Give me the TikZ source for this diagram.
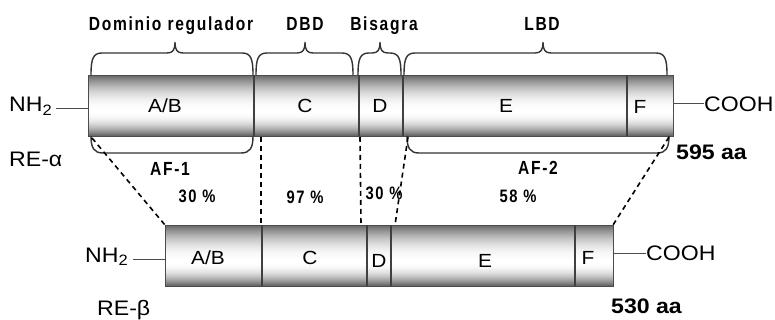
\documentclass[tikz,border=0pt]{standalone}
\usepackage{fontspec}
\setmainfont{Liberation Sans}[FakeStretch=1.1]
\newfontfamily\narrowfont[FakeStretch=0.82,LetterSpace=9]{Liberation Sans}
\usetikzlibrary{calc}

\tikzset{
  barrim/.style={draw=black!70, line width=0.8pt},
  sep/.style={draw=black!75, line width=1.2pt},
  seglabel/.style={font=\fontsize{19}{19}\selectfont, inner sep=0pt},
  endlabel/.style={font=\fontsize{21}{21}\selectfont, inner sep=0pt},
  aalabel/.style={font=\bfseries\fontsize{21}{21}\selectfont, inner sep=0pt},
  bracelabel/.style={font=\narrowfont\bfseries\fontsize{19}{19}\selectfont, inner sep=0pt},
  pct/.style={font=\narrowfont\bfseries\fontsize{18}{18}\selectfont, inner sep=0pt},
  tail/.style={draw=black!70, line width=1pt},
  brace/.style={draw=black!80, line width=1.4pt},
  homol/.style={draw=black, line width=1.6pt, dash pattern=on 5pt off 4pt},
}

% cylinder-like grey bar: left x, top y, right x, bottom y (y grows downwards)
% filled strip by strip, brightest a little below the middle
\newcommand\tubebar[4]{%
  \foreach \k in {0,...,59}{%
    \pgfmathsetmacro\tt{(\k+0.5)/60}%
    \pgfmathsetmacro\gg{\tt<0.6 ? 1-0.62*((\tt-0.6)/0.6)^2 : 1-0.62*((\tt-0.6)/0.4)^2}%
    \definecolor{tubegrey}{gray}{\gg}%
    \pgfmathsetmacro\ya{#2+(#4-#2)*\k/60}%
    \pgfmathsetmacro\yb{#2+(#4-#2)*(\k+1)/60+0.4}%
    \fill[tubegrey] (#1,\ya) rectangle (#3,{min(\yb,#4)});
  }%
  \draw[barrim] (#1,#2) rectangle (#3,#4);}

% braces above a bar: left x, tip x, right x, name of the tip
\newcommand\topbrace[4]{%
  \draw[brace] (#1,75) .. controls (#1,59) and (#1+2,53) .. (#1+11,53)
    -- (#2-8,53) .. controls (#2-2,53) and (#2,50) .. (#2,42)
    coordinate (#4)
    .. controls (#2,50) and (#2+2,53) .. (#2+8,53)
    -- (#3-11,53) .. controls (#3-2,53) and (#3,59) .. (#3,75);}
% rounded brackets below a bar: left x, right x
\newcommand\botbracket[2]{%
  \draw[brace] (#1,136) .. controls (#1,148) and (#1+3,153) .. (#1+12,153)
    -- (#2-12,153) .. controls (#2-3,153) and (#2,148) .. (#2,136);}

\begin{document}
\begin{tikzpicture}[x=1pt,y=-1pt]
\useasboundingbox (0,0) rectangle (775,320);

% ---------- receptor alpha ----------
\tubebar{88}{75}{673}{136}
\foreach \x/\n in {88/a0,254/a1,359/a2,403/a3,627/a4,673/a5}{
  \coordinate (\n t) at (\x,75);
  \coordinate (\n b) at (\x,136);
}
\foreach \n in {a1,a2,a3,a4}{ \draw[sep] (\n t) -- (\n b); }

\node[seglabel] (aAB) at (165,106) {A/B};
\node[seglabel] (aC)  at (305,106) {C};
\node[seglabel] (aD)  at (380,106) {D};
\node[seglabel] (aE)  at (506,106) {E};
\node[seglabel] (aF)  at (640,107) {F};

\node[endlabel, anchor=base west] (aNH) at (9,112) {NH\textsubscript{\fontsize{15}{15}\selectfont 2}};
\node[endlabel, anchor=west] (aCOOH) at (704,104) {COOH};
\draw[tail] (aNH.east) ++(4pt,-2pt) coordinate (aNHe) -- (aNHe -| a0t);
\draw[tail] (aCOOH.west) -- (aCOOH.west -| a5t);

\node[endlabel, anchor=base west] (aRE) at (9,167) {RE-α};
\node[aalabel, anchor=base west] (aLen) at (676,160) {595 aa};

% braces above the alpha bar
\topbrace{91}{175}{253}{brReg}
\topbrace{256}{305}{353}{brDBD}
\topbrace{358}{380}{401}{brHinge}
\topbrace{404}{543}{667}{brLBD}

\node[bracelabel, anchor=base] (lReg) at (171,31) {Dominio regulador};
\node[bracelabel, anchor=base] (lDBD) at (305,31) {DBD};
\node[bracelabel, anchor=base] (lHinge) at (384,31) {Bisagra};
\node[bracelabel, anchor=base] (lLBD) at (542,31) {LBD};

% activation-function brackets below the alpha bar
\botbracket{91}{253}
\botbracket{407}{669}
\node[bracelabel, anchor=base] (lAF1) at (170,176) {AF-1};
\node[bracelabel, anchor=base] (lAF2) at (538,175) {AF-2};

% ---------- receptor beta ----------
\tubebar{165}{225}{613}{286}
\foreach \x/\n in {165/b0,262/b1,367/b2,391/b3,575/b4,613/b5}{
  \coordinate (\n t) at (\x,225);
  \coordinate (\n b) at (\x,286);
}
\foreach \n in {b1,b2,b3,b4}{ \draw[sep] (\n t) -- (\n b); }

\node[seglabel] (bAB) at (208,258) {A/B};
\node[seglabel] (bC)  at (310,258) {C};
\node[seglabel] (bD)  at (379,261) {D};
\node[seglabel] (bE)  at (485,261) {E};
\node[seglabel] (bF)  at (588,258) {F};

\node[endlabel, anchor=base west] (bNH) at (85,262) {NH\textsubscript{\fontsize{15}{15}\selectfont 2}};
\node[endlabel, anchor=west] (bCOOH) at (646,253) {COOH};
\draw[tail] (bNH.east) ++(5pt,-3pt) coordinate (bNHe) -- (bNHe -| b0t);
\draw[tail] (bCOOH.west) -- (bCOOH.west -| b5t);

\node[endlabel, anchor=base west] (bRE) at (97,315) {RE-β};
\node[aalabel, anchor=base west] (bLen) at (611,313) {530 aa};

% ---------- homology guides ----------
\coordinate (g1a) at (92,138);
\coordinate (g2a) at (261,137);
\coordinate (g2b) at (261,225);
\coordinate (g3a) at (360,137);
\coordinate (g3b) at (361,225);
\coordinate (g4a) at (408,137);
\coordinate (g4b) at (395,225);
\coordinate (g5a) at (669,137);
\draw[homol] (g1a) -- (b0t);
\draw[homol] (g2a) -- (g2b);
\draw[homol] (g3a) -- (g3b);
\draw[homol] (g4a) -- (g4b);
\draw[homol] (g5a) -- (b5t);

\node[pct, anchor=base] (p1) at (197,203) {30 \%};
\node[pct, anchor=base] (p2) at (305,204) {97 \%};
\node[pct, anchor=base] (p3) at (384,200) {30 \%};
\node[pct, anchor=base] (p4) at (518,203) {58 \%};
\end{tikzpicture}
\end{document}
